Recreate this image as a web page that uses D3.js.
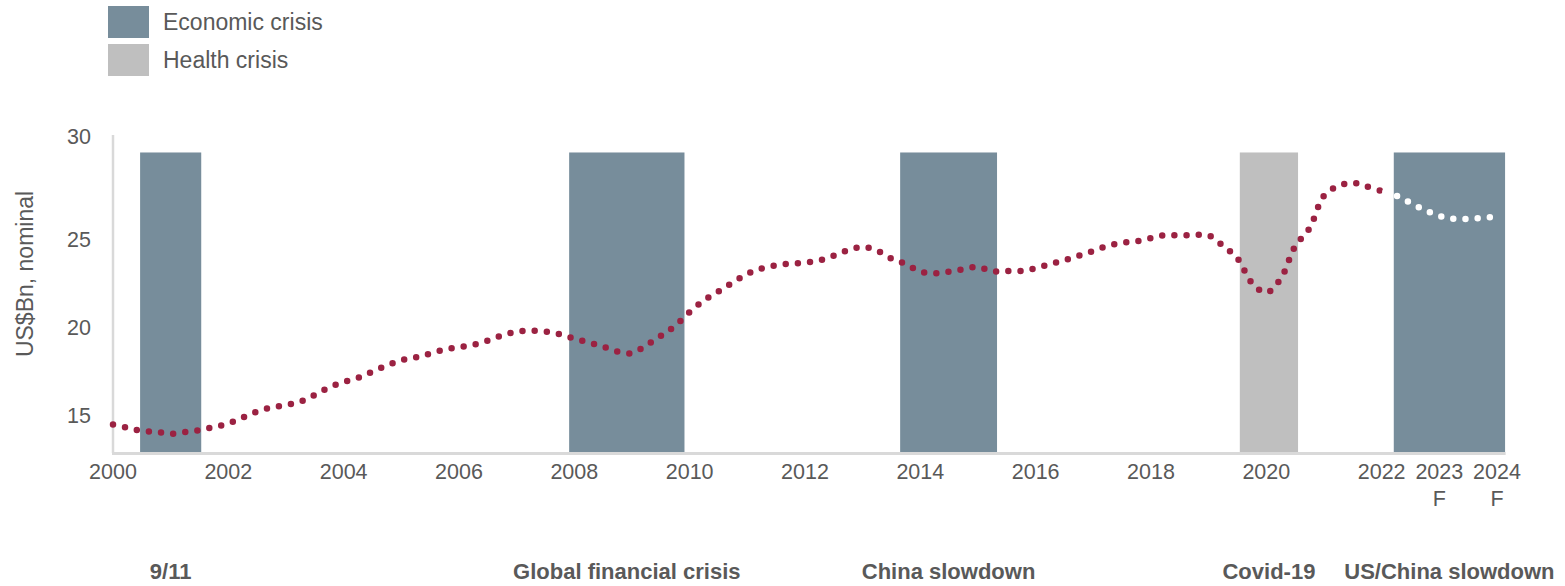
<!DOCTYPE html>
<html>
<head>
<meta charset="utf-8">
<script src="https://cdn.jsdelivr.net/npm/d3@7"></script>
<style>
	html, body { margin: 0; padding: 0; background: #fff; }
	svg { display: block; font-family: "Liberation Sans", Arial, Helvetica, sans-serif; }
</style>
</head>
<body>
<svg id="chart"></svg>
<script>

	// quarterly values, US$Bn nominal, 2000 Q1 .. 2024
	var startYear = 2000;
	var values = [
		14.46, 14.27, 14.10, 14.05, 13.94, 14.03, 14.14, 14.32,
		14.52, 14.86, 15.20, 15.43, 15.57, 15.76, 16.14, 16.57,
		16.87, 17.11, 17.47, 17.82, 18.11, 18.27, 18.49, 18.72,
		18.86, 18.99, 19.23, 19.53, 19.74, 19.79, 19.74, 19.59,
		19.34, 19.12, 18.88, 18.60, 18.52, 18.97, 19.50, 20.07,
		20.85, 21.52, 22.02, 22.53, 23.02, 23.33, 23.51, 23.60,
		23.66, 23.78, 24.05, 24.37, 24.55, 24.34, 23.89, 23.57,
		23.15, 23.05, 23.14, 23.29, 23.41, 23.16, 23.18, 23.18,
		23.34, 23.58, 23.79, 24.06, 24.32, 24.61, 24.78, 24.87,
		25.04, 25.19, 25.17, 25.19, 25.17, 24.61, 23.89, 22.50,
		21.95, 22.75, 24.59, 25.53, 27.10, 27.57, 27.73, 27.54,
		27.33, 27.11, 26.75, 26.40, 26.12, 25.98, 25.98, 26.02,
		26.10
	];
	var forecastFrom = 2022;

	// crisis periods (start / end as decimal years)
	var crisisNames = ["9/11", "Global financial crisis", "China slowdown", "Covid-19", "US/China slowdown"];
	var crisisTypes = ["Economic crisis", "Economic crisis", "Economic crisis", "Health crisis", "Economic crisis"];
	var crisisStart = [2000.47, 2007.91, 2013.65, 2019.54, 2022.21];
	var crisisEnd = [2001.53, 2009.91, 2015.33, 2020.55, 2024.14];
	var crisisTop = 29.2;

	var legendItems = ["Economic crisis", "Health crisis"];
	var xTicks = [2000, 2002, 2004, 2006, 2008, 2010, 2012, 2014, 2016, 2018, 2020, 2022, 2023, 2024];
	var forecastTicks = [2023, 2024];
	var yTicks = [15, 20, 25, 30];
	var yTitle = "US$Bn, nominal";

	var W = 1565, H = 586;
	var grey = "#595959";
	var colors = d3.scaleOrdinal()
		.domain(legendItems)
		.range(["#778d9b", "#bfbfbf"]);

	var svg = d3.select("#chart")
		.attr("width", W)
		.attr("height", H);

	var x = d3.scaleLinear()
		.domain([2000, 2024])
		.range([113, 1497]);

	// value axis in the picture is a little stretched above 25
	var y = d3.scaleLinear()
		.domain([12.9, 25, 30])
		.range([452, 239, 136]);

	var series = values.map(function(v, i) { return { year: startYear + i / 4, value: v }; });
	var actual = series.filter(function(d) { return d.year <= forecastFrom; });
	var forecast = series.filter(function(d) { return d.year >= forecastFrom; });

	// legend
	var legend = svg.append("g").attr("class", "legend");
	legendItems.forEach(function(name, i) {
		legend.append("rect")
			.attr("x", 108)
			.attr("y", 6 + i * 38)
			.attr("width", 41)
			.attr("height", 32)
			.style("fill", colors(name));
		legend.append("text")
			.attr("x", 163)
			.attr("y", 30 + i * 38)
			.style("font-size", "23px")
			.style("fill", grey)
			.text(name);
	});

	// crisis bars
	svg.append("g").selectAll("rect")
		.data(crisisNames)
		.enter().append("rect")
		.attr("x", function(d, i) { return x(crisisStart[i]); })
		.attr("width", function(d, i) { return x(crisisEnd[i]) - x(crisisStart[i]); })
		.attr("y", y(crisisTop))
		.attr("height", y.range()[0] - y(crisisTop))
		.style("fill", function(d, i) { return colors(crisisTypes[i]); });

	// axes lines
	svg.append("line")
		.attr("x1", x(2000)).attr("x2", x(2000))
		.attr("y1", 135).attr("y2", y.range()[0] + 1)
		.style("stroke", "#d9d9d9")
		.style("stroke-width", 2.5);

	svg.append("line")
		.attr("x1", x(2000) - 1).attr("x2", x(2024.15))
		.attr("y1", y.range()[0] + 1.5).attr("y2", y.range()[0] + 1.5)
		.style("stroke", "#d9d9d9")
		.style("stroke-width", 3);

	// y tick labels
	svg.append("g").selectAll("text")
		.data(yTicks)
		.enter().append("text")
		.attr("x", 91)
		.attr("y", function(d) { return y(d); })
		.attr("dy", "0.35em")
		.style("text-anchor", "end")
		.style("font-size", "21.5px")
		.style("fill", grey)
		.text(function(d) { return d; });

	svg.append("text")
		.attr("transform", "translate(25," + 274 + ") rotate(-90)")
		.attr("dy", "0.35em")
		.style("text-anchor", "middle")
		.style("font-size", "23px")
		.style("fill", grey)
		.text(yTitle);

	// x tick labels
	var xl = svg.append("g").selectAll("text")
		.data(xTicks)
		.enter().append("text")
		.attr("x", function(d) { return x(d); })
		.attr("y", 479)
		.style("text-anchor", "middle")
		.style("font-size", "21.5px")
		.style("fill", grey);

	xl.append("tspan")
		.attr("x", function(d) { return x(d); })
		.text(function(d) { return d; });

	xl.filter(function(d) { return forecastTicks.indexOf(d) >= 0; })
		.append("tspan")
		.attr("x", function(d) { return x(d); })
		.attr("dy", 27)
		.text("F");

	// crisis names under the axis
	svg.append("g").selectAll("text")
		.data(crisisNames)
		.enter().append("text")
		.attr("x", function(d, i) { return x((crisisStart[i] + crisisEnd[i]) / 2); })
		.attr("y", 579)
		.style("text-anchor", "middle")
		.style("font-size", "22px")
		.style("font-weight", "bold")
		.style("fill", grey)
		.text(function(d) { return d; });

	// dotted line
	var line = d3.line()
		.x(function(d) { return x(d.year); })
		.y(function(d) { return y(d.value); })
		.curve(d3.curveCatmullRom.alpha(0.5));

	svg.append("path")
		.attr("d", line(actual))
		.style("fill", "none")
		.style("stroke", "#9b2242")
		.style("stroke-width", 6.5)
		.style("stroke-linecap", "round")
		.style("stroke-dasharray", "0 12.2");

	svg.append("path")
		.attr("d", line(forecast))
		.style("fill", "none")
		.style("stroke", "#ffffff")
		.style("stroke-width", 6.5)
		.style("stroke-linecap", "round")
		.style("stroke-dasharray", "0 12.2")
		.style("stroke-dashoffset", -4);

</script>
</body>
</html>
